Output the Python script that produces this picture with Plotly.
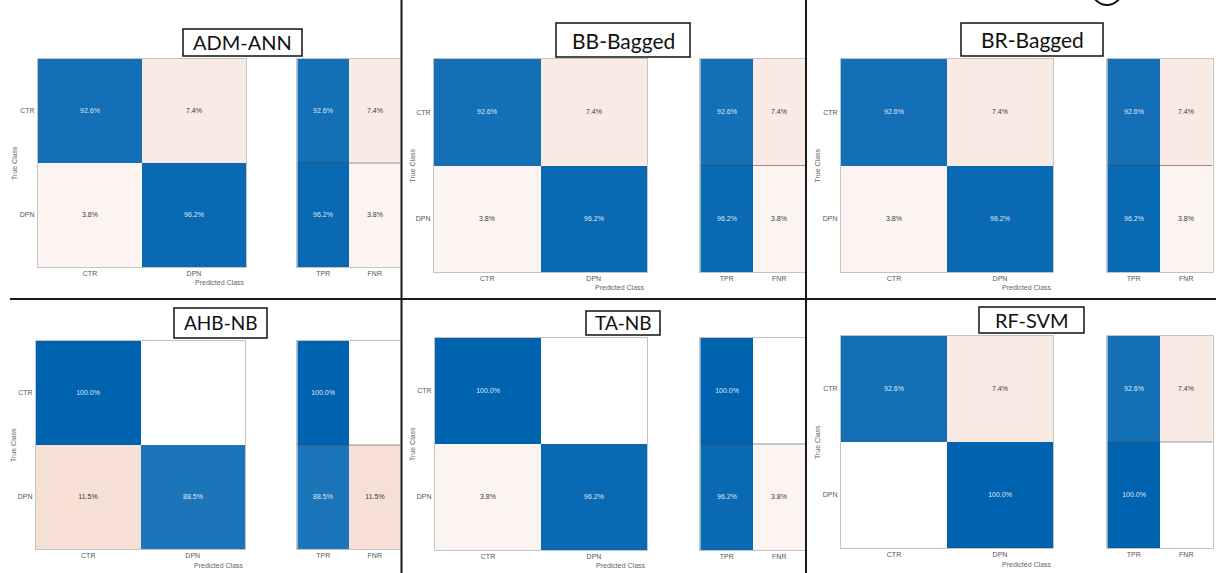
import plotly.graph_objects as go

# Row-normalised confusion rates (%) per model: rows = true class, cols = predicted class
models = ["ADM-ANN", "BB-Bagged", "BR-Bagged", "AHB-NB", "TA-NB", "RF-SVM"]
classes = ["CTR", "DPN"]
summary_cols = ["TPR", "FNR"]

adm_ann = [[92.6, 7.4], [3.8, 96.2]]
bb_bagged = [[92.6, 7.4], [3.8, 96.2]]
br_bagged = [[92.6, 7.4], [3.8, 96.2]]
ahb_nb = [[100.0, 0.0], [11.5, 88.5]]
ta_nb = [[100.0, 0.0], [3.8, 96.2]]
rf_svm = [[92.6, 7.4], [0.0, 100.0]]
rates = [adm_ann, bb_bagged, br_bagged, ahb_nb, ta_nb, rf_svm]

W, H = 1216, 573
SMALL = "Liberation Sans, Arial, sans-serif"
TITLE_FONT = "Lato, Carlito, Calibri, sans-serif"

BLUE = [[0, "rgb(255,255,255)"], [1, "rgb(0,99,176)"]]
PEACH = [[0, "rgb(255,255,255)"], [1, "rgb(231,171,144)"]]


def xd(a, b):
    return [a / W, b / W]


def yd(top, bottom):
    return [1 - bottom / H, 1 - top / H]


def pct(v):
    return "" if v is None or v == 0 else f"{v:.1f}%"


# panel geometry in pixels: matrix (x0, x1), summary (x0, x1), (top, bottom)
panels = [
    dict(mx=(38, 246), sx=(297, 401), y=(59, 267), box=(183, 302, 29, 56), fs=20,
         tc=(15,), pc=282),
    dict(mx=(434, 647), sx=(700, 806), y=(59, 272), box=(556, 690, 23, 57), fs=21,
         tc=(412,), pc=287),
    dict(mx=(841, 1053), sx=(1107, 1213), y=(59, 272), box=(961, 1103, 23, 56), fs=21,
         tc=(817,), pc=287),
    dict(mx=(36, 245), sx=(297, 401), y=(341, 549), box=(174, 267, 308, 338), fs=19,
         tc=(13,), pc=565),
    dict(mx=(435, 647), sx=(700, 806), y=(338, 550), box=(586, 660, 311, 335), fs=19,
         tc=(412,), pc=565),
    dict(mx=(841, 1053), sx=(1107, 1213), y=(336, 548), box=(979, 1084, 307, 333), fs=20,
         tc=(817,), pc=564),
]

fig = go.Figure()
shapes = []
annotations = []

axis_common = dict(showgrid=False, zeroline=False, ticks="", showline=True, mirror=True,
                   linecolor="#c4c4c4", linewidth=1, fixedrange=True,
                   tickfont=dict(family=SMALL, size=7, color="#555555"))

for i, (name, m) in enumerate(zip(models, rates)):
    p = panels[i]
    nm, ns = 2 * i + 1, 2 * i + 2
    xm, ym = f"x{nm}", f"y{nm}"
    xs, ys = f"x{ns}", f"y{ns}"

    diag = [[m[0][0], None], [None, m[1][1]]]
    off = [[None, m[0][1]], [m[1][0], None]]
    off = [[None if v == 0 else v for v in row] for row in off]

    fig.add_trace(go.Heatmap(
        x=classes, y=classes, z=diag, xaxis=xm, yaxis=ym,
        colorscale=BLUE, zmin=0, zmax=100, showscale=False, hoverinfo="skip",
        text=[[pct(v) for v in row] for row in diag], texttemplate="%{text}",
        textfont=dict(family=SMALL, size=7, color="rgba(235,243,252,0.95)")))
    fig.add_trace(go.Heatmap(
        x=classes, y=classes, z=off, xaxis=xm, yaxis=ym,
        colorscale=PEACH, zmin=0, zmax=30, showscale=False, hoverinfo="skip",
        text=[[pct(v) for v in row] for row in off], texttemplate="%{text}",
        textfont=dict(family=SMALL, size=7, color="#3a3a3a")))

    # per-class summary: true positive rate / false negative rate
    tpr = [[m[0][0], None], [m[1][1], None]]
    fnr = [[None, m[0][1] or None], [None, m[1][0] or None]]
    fig.add_trace(go.Heatmap(
        x=summary_cols, y=classes, z=tpr, xaxis=xs, yaxis=ys,
        colorscale=BLUE, zmin=0, zmax=100, showscale=False, hoverinfo="skip",
        text=[[pct(v) for v in row] for row in tpr], texttemplate="%{text}",
        textfont=dict(family=SMALL, size=7, color="rgba(235,243,252,0.95)")))
    fig.add_trace(go.Heatmap(
        x=summary_cols, y=classes, z=fnr, xaxis=xs, yaxis=ys,
        colorscale=PEACH, zmin=0, zmax=30, showscale=False, hoverinfo="skip",
        text=[[pct(v) for v in row] for row in fnr], texttemplate="%{text}",
        textfont=dict(family=SMALL, size=7, color="#3a3a3a")))

    top, bottom = p["y"]
    fig.layout[f"xaxis{nm}"] = dict(domain=xd(*p["mx"]), anchor=ym, **axis_common)
    fig.layout[f"yaxis{nm}"] = dict(domain=yd(top, bottom), anchor=xm, autorange="reversed",
                                    ticklabelstandoff=1, **axis_common)
    fig.layout[f"xaxis{ns}"] = dict(domain=xd(*p["sx"]), anchor=ys, **axis_common)
    fig.layout[f"yaxis{ns}"] = dict(domain=yd(top, bottom), anchor=xs, autorange="reversed",
                                    showticklabels=False, **axis_common)

    # row separator in the summary block
    shapes.append(dict(type="line", xref=xs, yref=ys, x0=-0.5, x1=1.5, y0=0.5, y1=0.5,
                       line=dict(color="rgba(70,70,70,0.55)", width=1)))

    # boxed model name
    bx0, bx1, by0, by1 = p["box"]
    shapes.append(dict(type="rect", xref="paper", yref="paper",
                       x0=bx0 / W, x1=bx1 / W, y0=1 - by1 / H, y1=1 - by0 / H,
                       line=dict(color="#111111", width=1.5), fillcolor="white"))
    annotations.append(dict(text=name, xref="paper", yref="paper",
                            x=(bx0 + bx1) / 2 / W, y=1 - (by0 + by1) / 2 / H,
                            xanchor="center", yanchor="middle", showarrow=False,
                            font=dict(family=TITLE_FONT, size=p["fs"], color="#111111")))

    # axis titles
    annotations.append(dict(text="True Class", xref="paper", yref="paper",
                            x=p["tc"][0] / W, y=1 - (top + bottom) / 2 / H, textangle=-90,
                            xanchor="center", yanchor="middle", showarrow=False,
                            font=dict(family=SMALL, size=7, color="#666666")))
    annotations.append(dict(text="Predicted Class", xref="paper", yref="paper",
                            x=(p["mx"][0] + p["sx"][1]) / 2 / W, y=1 - p["pc"] / H,
                            xanchor="center", yanchor="middle", showarrow=False,
                            font=dict(family=SMALL, size=7, color="#666666")))

# panel dividers
div = dict(color="#1a1a1a", width=2)
shapes.append(dict(type="line", xref="paper", yref="paper", x0=401.5 / W, x1=401.5 / W,
                   y0=0, y1=1, line=div))
shapes.append(dict(type="line", xref="paper", yref="paper", x0=806 / W, x1=806 / W,
                   y0=0, y1=1, line=div))
shapes.append(dict(type="line", xref="paper", yref="paper", x0=10 / W, x1=1,
                   y0=1 - 299 / H, y1=1 - 299 / H, line=div))
# partial circle marker at the top edge
shapes.append(dict(type="circle", xref="paper", yref="paper",
                   x0=1092 / W, x1=1122 / W, y0=1 - 5 / H, y1=1 + 25 / H,
                   line=dict(color="#111111", width=2)))

fig.update_layout(width=W, height=H, margin=dict(l=0, r=0, t=0, b=0),
                  paper_bgcolor="white", plot_bgcolor="white",
                  shapes=shapes, annotations=annotations, showlegend=False)

fig.write_html("out.html")
